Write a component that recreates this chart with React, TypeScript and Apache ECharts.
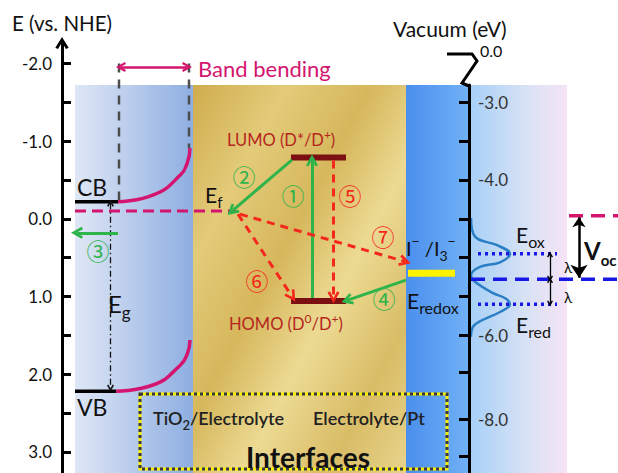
import React, { useEffect, useRef } from 'react';
import * as echarts from 'echarts';

// ---------- scale of the schematic (pixels per eV, position of 0 V vs NHE) ----------
const PX_PER_EV = 77.66;
const Y_NHE_ZERO = 218.8;
const VAC_SHIFT = -4.5; // E(vacuum) = -4.5 - E(NHE)

// ---------- axis data ----------
const nheMajorTicks = [-2, -1, 0, 1, 2, 3];
const nheMinorTicks = [-2, -1.5, -1, -0.5, 0, 0.5, 1, 1.5, 2, 2.5, 3];
const vacTicks = [-3, -3.5, -4, -4.5, -5, -5.5, -6, -6.48, -7.08, -7.56];
const vacLabelValues = [-3, -4, -6, -7.08];
const vacLabelTexts = ['-3.0', '-4.0', '-6.0', '-8.0'];

// ---------- energy levels (V vs NHE) ----------
const levelNames = ['CB', 'VB', 'Ef', 'LUMO', 'HOMO', 'Eredox'];
const levelNHE = [-0.22, 2.22, -0.1, -0.79, 1.06, 0.7];
const bandBendTopNHE = -2.0;

// band bending curves [position, E vs NHE]
const cbBend = [[118, -0.22], [154, -0.31], [180, -0.56], [187.5, -0.73], [190, -0.91]];
const vbBend = [[116, 2.22], [153, 2.14], [180, 1.89], [187.5, 1.73], [190, 1.56]];

// ---------- redox couple (eV vs vacuum) ----------
const rightLevelNames = ['Eox', 'Ered', 'Eredox', 'EfVoc'];
const rightLevelVac = [-4.95, -5.6, -5.28, -4.46];
// density of states of the redox couple [amplitude position, E vs vacuum]
const dosCurve = [
  [471, -4.49], [475, -4.73], [497, -4.84], [510, -4.95], [500, -5.06], [480, -5.12], [471, -5.23],
  [474, -5.3], [492, -5.45], [506, -5.53], [510, -5.6], [500, -5.7], [483, -5.8], [473, -5.89], [471, -6.02],
];

const FONT = 'Lato, "Open Sans", "DejaVu Sans", sans-serif';
const CJK = '"Noto Sans CJK SC", "DejaVu Sans", sans-serif';
const GREEN = '#2fb34b';
const RED = '#f4281c';
const MAGENTA = '#d4156f';
const BLUE = '#1717e6';
const CHEVRON = 'path://M5,0 L10,8 L8,9 L5,4 L2,9 L0,8 Z';

const lv = (n: string) => levelNHE[levelNames.indexOf(n)];
const rv = (n: string) => rightLevelVac[rightLevelNames.indexOf(n)];

function seg(data: number[][], color: string, width: number, type: any = 'solid', grid = 0, smooth: any = false) {
  return {
    type: 'line', xAxisIndex: grid, yAxisIndex: grid, data, smooth, showSymbol: false, symbol: 'none',
    lineStyle: { color, width, type, cap: 'butt' }, silent: true, z: 3,
  };
}

function arrow(coords: number[][], color: string, width: number, type: any, ends: string[], size: number[], grid = 0) {
  return {
    type: 'lines', coordinateSystem: 'cartesian2d', xAxisIndex: grid, yAxisIndex: grid,
    data: [{ coords }], symbol: ends, symbolSize: size,
    lineStyle: { color, width, type, opacity: 1, curveness: 0 }, silent: true, z: 4,
  };
}

function txt(x: number, y: number, text: string, size: number, color = '#111', extra: any = {}) {
  return {
    type: 'text', x, y, z: 20, silent: true,
    style: { text, fontSize: size, fill: color, fontFamily: FONT, verticalAlign: 'middle', align: 'left', ...extra },
  };
}

// rich text with sub (b) / super (p) scripts
function rtxt(x: number, y: number, parts: [string, string][], size: number, color = '#111', weight: any = 'normal', subScale = 0.72, align = 'left') {
  const s = Math.round(size * subScale);
  return {
    type: 'text', x, y, z: 20, silent: true,
    style: {
      text: parts.map(([t, k]) => `{${k}|${t}}`).join(''),
      verticalAlign: 'middle', align, fontFamily: FONT,
      rich: {
        n: { fontSize: size, lineHeight: Math.round(size * 1.45), verticalAlign: 'middle', fill: color, fontFamily: FONT, fontWeight: weight },
        b: { fontSize: s, lineHeight: s, verticalAlign: 'bottom', fill: color, fontFamily: FONT, fontWeight: weight },
        p: { fontSize: s, lineHeight: s, verticalAlign: 'top', fill: color, fontFamily: FONT, fontWeight: weight },
      },
    },
  };
}

function circled(x: number, y: number, ch: string, color: string) {
  return txt(x, y, ch, 23, color, { fontFamily: CJK, align: 'center' });
}

export default function App() {
  const ref = useRef<HTMLDivElement>(null);
  useEffect(() => {
    if (!ref.current) return;
    const chart = echarts.init(ref.current, undefined, { renderer: 'svg' });
    const H = 473;
    const top0 = 43, top1 = 85;
    const nheMin = (top0 - Y_NHE_ZERO) / PX_PER_EV;
    const nheMax = (H - Y_NHE_ZERO) / PX_PER_EV;
    const vacMax = VAC_SHIFT - (top1 - Y_NHE_ZERO) / PX_PER_EV;
    const vacMin = VAC_SHIFT - nheMax;

    const CB = lv('CB'), VB = lv('VB'), EF = lv('Ef'), LUMO = lv('LUMO'), HOMO = lv('HOMO'), RDX = lv('Eredox');
    const EOX = rv('Eox'), ERED = rv('Ered'), ERDX = rv('Eredox'), EFV = rv('EfVoc');

    const series: any[] = [
      // band-bending guide lines
      seg([[119, bandBendTopNHE], [119, CB + 0.03]], '#4d4d4d', 2.5, [9, 7]),
      seg([[189, bandBendTopNHE], [189, cbBend[cbBend.length - 1][1]]], '#4d4d4d', 2.5, [9, 7]),
      // TiO2 levels
      seg([[75, CB], [118, CB]], '#000', 3.5),
      seg([[75, VB], [116, VB]], '#000', 3.5),
      seg(cbBend, MAGENTA, 3.5, 'solid', 0, 0.5),
      seg(vbBend, MAGENTA, 3.5, 'solid', 0, 0.5),
      seg([[75, EF], [236, EF]], MAGENTA, 3, [11, 6]),
      // dye levels
      seg([[291, LUMO], [346, LUMO]], '#7b0f12', 6),
      seg([[291, HOMO], [346, HOMO]], '#7b0f12', 6),
      // redox level
      seg([[408, RDX], [455, RDX]], '#fff200', 7),
      // arrows
      arrow([[121, -1.954], [187, -1.954]], MAGENTA, 2.5, 'solid', [CHEVRON, CHEVRON], [10, 10]),
      arrow([[110.5, CB + 0.02], [110.5, VB - 0.04]], '#111', 1.3, [6, 3, 1.5, 3], [CHEVRON, CHEVRON], [7, 7]),
      arrow([[312, HOMO - 0.04], [312, LUMO + 0.04]], GREEN, 3, 'solid', ['none', CHEVRON], [12, 12]),
      arrow([[292, LUMO + 0.03], [232, EF]], GREEN, 3, 'solid', ['none', CHEVRON], [12, 12]),
      arrow([[118, 0.18], [77, 0.18]], GREEN, 3, 'solid', ['none', CHEVRON], [12, 12]),
      arrow([[406, 0.79], [347, HOMO - 0.01]], GREEN, 3, 'solid', ['none', CHEVRON], [12, 12]),
      arrow([[333.5, LUMO + 0.04], [333.5, HOMO - 0.05]], RED, 3, [8, 6], ['none', CHEVRON], [12, 12]),
      arrow([[238, EF + 0.04], [292, HOMO - 0.06]], RED, 3, [8, 6], ['none', CHEVRON], [12, 12]),
      arrow([[240, EF + 0.04], [405, 0.55]], RED, 3, [8, 6], ['none', CHEVRON], [12, 12]),
      // vacuum-side items
      seg(dosCurve, '#2a7fc4', 2.5, 'solid', 1, 0.4),
      seg([[478, EOX], [557, EOX]], BLUE, 3.5, [3, 4], 1),
      seg([[478, ERED], [557, ERED]], BLUE, 3.5, [3, 4], 1),
      seg([[471, ERDX], [618, ERDX]], BLUE, 3.5, [14, 8], 1),
      seg([[569, EFV], [618, EFV]], MAGENTA, 3.5, [14, 8], 1),
      arrow([[579, EFV - 0.02], [579, ERDX + 0.02]], '#000', 2.5, 'solid', ['arrow', 'arrow'], [10, 13], 1),
      arrow([[550, EOX - 0.01], [550, ERDX + 0.01]], '#000', 1.3, 'solid', [CHEVRON, CHEVRON], [6, 6], 1),
      arrow([[550, ERDX - 0.01], [550, ERED + 0.01]], '#000', 1.3, 'solid', [CHEVRON, CHEVRON], [6, 6], 1),
    ];

    const lin = (stops: [number, string][], x2 = 1, y2 = 0) => ({
      type: 'linear', x: 0, y: 0, x2, y2, colorStops: stops.map(([offset, color]) => ({ offset, color })),
    });

    const graphic: any[] = [
      { type: 'rect', z: 0, silent: true, shape: { x: 75, y: 85, width: 118, height: 400 }, style: { fill: lin([[0, '#dfe7f5'], [1, '#8eaee1']]) } },
      { type: 'rect', z: 0, silent: true, shape: { x: 193, y: 85, width: 213, height: 400 }, style: { fill: lin([[0, '#cfac4c'], [0.22, '#e3cb7a'], [0.42, '#d6b75c'], [0.6, '#ecda93'], [0.8, '#d9bc66'], [1, '#e9d68f']], 1, 1) } },
      { type: 'rect', z: 0, silent: true, shape: { x: 406, y: 85, width: 63, height: 400 }, style: { fill: lin([[0, '#4a8fee'], [1, '#71b1f6']]) } },
      { type: 'rect', z: 0, silent: true, shape: { x: 469, y: 85, width: 98, height: 400 }, style: { fill: lin([[0, '#a6d0f8'], [0.6, '#d9e2f4'], [1, '#f5e4f6']]) } },
      // axis break at top of vacuum scale
      { type: 'polyline', z: 12, silent: true, shape: { points: [[447, 54], [472, 54], [477, 61], [462, 83], [469, 86]] }, style: { stroke: '#000', lineWidth: 3, fill: 'none' } },
      // interfaces box
      { type: 'rect', z: 15, silent: true, shape: { x: 140, y: 394, width: 307, height: 75 }, style: { fill: 'none', stroke: '#f7f000', lineWidth: 3 } },
      { type: 'rect', z: 16, silent: true, shape: { x: 140, y: 394, width: 307, height: 75 }, style: { fill: 'none', stroke: '#34344a', lineWidth: 3, lineDash: [3, 3] } },
      // texts
      txt(12, 23, 'E (vs. NHE)', 20.5),
      txt(393, 28, 'Vacuum (eV)', 21),
      txt(480, 50, '0.0', 16),
      txt(198, 68, 'Band bending', 22, MAGENTA),
      txt(77, 187, 'CB', 23),
      txt(77, 407, 'VB', 23),
      rtxt(205, 194, [['E', 'n'], ['f', 'b']], 21),
      rtxt(108, 303, [['E', 'n'], ['g', 'b']], 24),
      rtxt(227, 140, [['LUMO (D*/D', 'n'], ['+', 'p'], [')', 'n']], 16.5, '#b5261c'),
      rtxt(229, 324, [['HOMO (D', 'n'], ['0', 'p'], ['/D', 'n'], ['+', 'p'], [')', 'n']], 16.5, '#b5261c'),
      rtxt(406, 248, [['I', 'n'], ['\u2212', 'p'], [' /I', 'n'], ['3', 'b'], ['\u2212', 'p']], 20),
      rtxt(407, 300, [['E', 'n'], ['redox', 'b']], 21, '#111', 'normal', 0.78),
      rtxt(516, 234, [['E', 'n'], ['ox', 'b']], 21, '#111', 'normal', 0.78),
      rtxt(516, 324, [['E', 'n'], ['red', 'b']], 21, '#111', 'normal', 0.78),
      txt(564, 267, '\u03bb', 15),
      txt(564, 297, '\u03bb', 15),
      rtxt(584, 250, [['V', 'n'], ['oc', 'b']], 24, '#111', 'bold', 0.62),
      circled(293, 195, '\u2460', GREEN),
      circled(244, 176, '\u2461', GREEN),
      circled(98, 250, '\u2462', GREEN),
      circled(384, 298, '\u2463', GREEN),
      circled(350, 195, '\u2464', RED),
      circled(257, 280, '\u2465', RED),
      circled(383, 236, '\u2466', RED),
      rtxt(153, 418, [['TiO', 'n'], ['2', 'b'], ['/Electrolyte', 'n']], 18, '#222', 600),
      txt(313, 418, 'Electrolyte/Pt', 18, '#222', { fontWeight: 600 }),
      txt(308, 457, 'Interfaces', 28, '#111', { fontWeight: 'bold', align: 'center' }),
    ];

    chart.setOption({
      animation: false,
      grid: [
        { left: 62, right: 0, top: top0, bottom: 0 },
        { left: 469, right: 0, top: top1, bottom: 0 },
      ],
      xAxis: [
        { type: 'value', gridIndex: 0, min: 62, max: 618, show: false },
        { type: 'value', gridIndex: 1, min: 469, max: 618, show: false },
      ],
      yAxis: [
        {
          type: 'value', gridIndex: 0, inverse: true, min: nheMin, max: nheMax, z: 10,
          axisLine: { show: true, lineStyle: { color: '#000', width: 3 }, symbol: ['none', CHEVRON], symbolSize: [14, 12] },
          axisTick: { show: true, inside: true, length: 9, lineStyle: { color: '#000', width: 3 }, customValues: nheMinorTicks },
          axisLabel: { show: true, customValues: nheMajorTicks, formatter: (v: number) => v.toFixed(1), color: '#111', fontSize: 17, fontFamily: FONT, margin: 10 },
          splitLine: { show: false },
        },
        {
          type: 'value', gridIndex: 1, min: vacMin, max: vacMax, z: 10,
          axisLine: { show: true, lineStyle: { color: '#000', width: 3 } },
          axisTick: { show: true, inside: false, length: 10, lineStyle: { color: '#000', width: 3 }, customValues: vacTicks },
          axisLabel: {
            show: true, inside: true, customValues: vacLabelValues, margin: 9, color: '#333', fontSize: 17, fontFamily: FONT,
            formatter: (v: number) => {
              let best = 0;
              vacLabelValues.forEach((t, i) => { if (Math.abs(t - v) < Math.abs(vacLabelValues[best] - v)) best = i; });
              return vacLabelTexts[best];
            },
          },
          splitLine: { show: false },
        },
      ],
      series,
      graphic,
    });
    return () => chart.dispose();
  }, []);
  return <div ref={ref} style={{ position: 'fixed', left: 0, top: 0, width: 618, height: 473, background: '#fff' }} />;
}
